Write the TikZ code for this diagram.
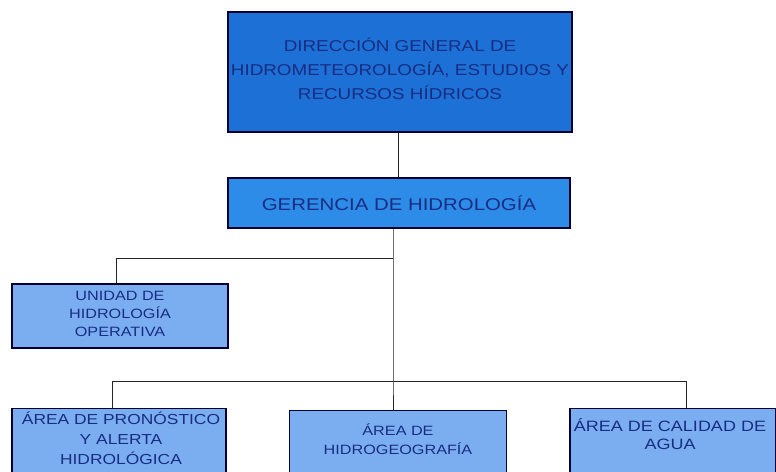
\documentclass[tikz,border=0pt]{standalone}
\usepackage{fontspec}
\setmainfont{Liberation Sans}
\newfontfamily\widesans[FakeStretch=1.2]{Liberation Sans}
\begin{document}
\begin{tikzpicture}[x=1pt,y=-1pt,
  box/.style={draw=black!80!blue, line width=1.3pt, inner sep=0pt},
  lvlone/.style={box, fill=topblue},
  lvltwo/.style={box, fill=midblue},
  lvlthree/.style={box, fill=lowblue},
  lbl/.style={inner sep=0pt, align=center, text=navytext},
  link/.style={draw=black!85, line width=1pt}]
\definecolor{topblue}{RGB}{28,112,214}
\definecolor{midblue}{RGB}{45,140,232}
\definecolor{lowblue}{RGB}{122,174,240}
\definecolor{navytext}{RGB}{25,45,130}
\useasboundingbox (0,0) rectangle (776,471);
\clip (0,0) rectangle (776,471);
\fill[white] (0,0) rectangle (776,471);
\node[lvlone, minimum width=344pt, minimum height=120pt] (dg) at (400,72) {};
\node[lbl, font=\widesans\fontsize{15.7}{24}\selectfont] (dgt) at (400,69)
  {DIRECCIÓN GENERAL DE\\HIDROMETEOROLOGÍA, ESTUDIOS Y\\RECURSOS HÍDRICOS};
\node[lvltwo, minimum width=342pt, minimum height=50pt] (gh) at (399,203) {};
\node[lbl, font=\widesans\fontsize{17}{20}\selectfont] (ght) at (399,203)
  {GERENCIA DE HIDROLOGÍA};
\node[lvlthree, minimum width=216pt, minimum height=64pt] (uo) at (120,316) {};
\node[lbl, font=\widesans\fontsize{13.5}{18}\selectfont] (uot) at (120,314)
  {UNIDAD DE\\HIDROLOGÍA\\OPERATIVA};
\node[lvlthree, minimum width=214pt, minimum height=72pt, anchor=north] (pa) at (119,408) {};
\node[lbl, font=\widesans\fontsize{14.5}{20}\selectfont] (pat) at (121,438)
  {ÁREA DE PRONÓSTICO\\Y ALERTA\\HIDROLÓGICA};
\node[lvlthree, minimum width=217pt, minimum height=70pt, anchor=north] (hg) at (398,410) {};
\node[lbl, font=\widesans\fontsize{13.5}{19}\selectfont] (hgt) at (398,439)
  {ÁREA DE\\HIDROGEOGRAFÍA};
\node[lvlthree, minimum width=206pt, minimum height=72pt, anchor=north] (ca) at (673,408) {};
\node[lbl, font=\widesans\fontsize{15}{18}\selectfont] (cat) at (670,434)
  {ÁREA DE CALIDAD DE\\AGUA};
\coordinate (j1) at (393,258);
\coordinate (j2) at (393,381);
\coordinate (l1) at (116,258);
\coordinate (b1) at (112,381);
\coordinate (b3) at (686,381);
\draw[link] (dg.south -| 398,0) -- (gh.north -| 398,0);
\draw[link] (gh.south -| j1) -- (j2) -- (hg.north -| j2);
\draw[link] (j1) -- (l1) -- (uo.north -| l1);
\draw[link] (b1) -- (b3);
\draw[link] (b1) -- (pa.north -| b1);
\draw[link] (b3) -- (ca.north -| b3);
\end{tikzpicture}
\end{document}
